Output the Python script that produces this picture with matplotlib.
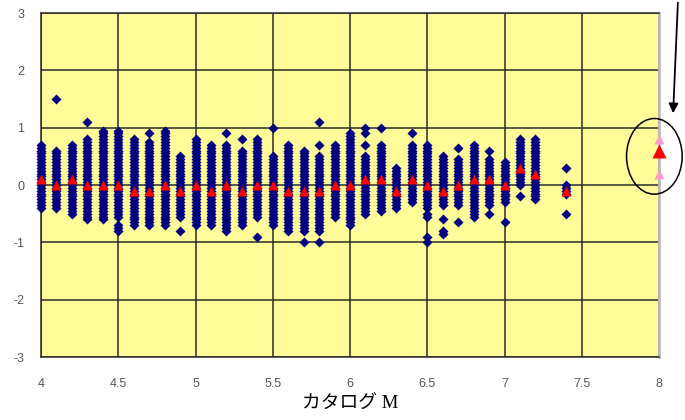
import numpy as np
import matplotlib.pyplot as plt
from matplotlib.patches import Ellipse

plt.rcParams['axes.unicode_minus'] = False

# catalog magnitude of each column
mag = [4.0, 4.1, 4.2, 4.3, 4.4, 4.5, 4.6, 4.7, 4.8, 4.9,
       5.0, 5.1, 5.2, 5.3, 5.4, 5.5, 5.6, 5.7, 5.8, 5.9,
       6.0, 6.1, 6.2, 6.3, 6.4, 6.5, 6.6, 6.7, 6.8, 6.9,
       7.0, 7.1, 7.2, 7.4]

# dense part of each column (residuals every 0.05)
col_top = [0.70, 0.60, 0.70, 0.80, 0.95, 0.95, 0.80, 0.75, 0.95, 0.50,
           0.80, 0.70, 0.70, 0.60, 0.80, 0.50, 0.70, 0.60, 0.50, 0.70,
           0.90, 0.50, 0.70, 0.30, 0.70, 0.70, 0.50, 0.45, 0.70, 0.45,
           0.40, 0.80, 0.80, 0.00]
col_bottom = [-0.40, -0.40, -0.50, -0.60, -0.60, -0.55, -0.70, -0.70, -0.70, -0.55,
              -0.70, -0.70, -0.80, -0.70, -0.55, -0.70, -0.80, -0.80, -0.80, -0.55,
              -0.70, -0.50, -0.45, -0.40, -0.30, -0.40, -0.35, -0.35, -0.55, -0.35,
              -0.30, 0.00, -0.25, 0.00]

# isolated points
extra_x = [4.1, 4.3, 4.5, 4.5, 4.5, 4.7, 4.9, 5.2, 5.3, 5.4, 5.5, 5.7,
           5.8, 5.8, 5.8, 6.1, 6.1, 6.1, 6.2, 6.4, 6.5, 6.5, 6.5, 6.5,
           6.6, 6.6, 6.6, 6.7, 6.7, 6.9, 6.9, 7.0, 7.1,
           7.4, 7.4, 7.4, 7.4, 7.4]
extra_y = [1.5, 1.1, -0.7, -0.75, -0.8, 0.9, -0.8, 0.9, 0.8, -0.9, 1.0, -1.0,
           1.1, 0.7, -1.0, 1.0, 0.9, 0.7, 1.0, 0.9, -0.5, -0.55, -0.9, -1.0,
           -0.6, -0.8, -0.85, 0.65, -0.65, 0.6, -0.5, -0.65, -0.2,
           0.3, -0.05, -0.1, -0.15, -0.5]

# mean residual per column
mean_resid = [0.1, 0.0, 0.1, 0.0, 0.0, 0.0, -0.1, -0.1, 0.0, -0.1,
              0.0, -0.1, 0.0, -0.1, 0.0, 0.0, -0.1, -0.1, -0.1, 0.0,
              0.0, 0.1, 0.1, -0.1, 0.1, 0.0, -0.1, 0.0, 0.1, 0.1,
              0.0, 0.3, 0.2, -0.1]

# highlighted star at M = 8
hl_mag = 8.0
hl_mean = 0.6
hl_range = [0.8, 0.2]

xtick_vals = [4, 4.5, 5, 5.5, 6, 6.5, 7, 7.5, 8]
xtick_labels = ["4", "4.5", "5", "5.5", "6", "6.5", "7", "7.5", "8"]
ytick_vals = [-3, -2, -1, 0, 1, 2, 3]

# expand dense columns
px, py = [], []
for m, t, b in zip(mag, col_top, col_bottom):
    ys = np.round(np.arange(b, t + 0.001, 0.05), 2)
    px.extend([m] * len(ys))
    py.extend(ys)
px.extend(extra_x)
py.extend(extra_y)

fig = plt.figure(figsize=(6.85, 4.2), dpi=100)
ax = fig.add_axes([41 / 685, 63 / 420, 618 / 685, 344 / 420])
ax.set_facecolor("#fffb99")

ax.plot(px, py, "D", color="#000080", ms=5.0, mec="none", zorder=3, clip_on=False)
ax.plot(mag, mean_resid, "^", color="#ff0000", ms=7, mec="none", zorder=4,
        clip_on=False)

ax.plot([hl_mag] * len(hl_range), hl_range, "^", color="#ff9ccc", ms=6.5,
        mec="none", zorder=4, clip_on=False)
ax.plot([hl_mag], [hl_mean], "^", color="#ff0000", ms=10, mec="none",
        zorder=5, clip_on=False)

ell = Ellipse((hl_mag - 0.03, 0.5), 0.36, 1.32, fill=False, ec="black",
              lw=1.1, clip_on=False, zorder=6)
ax.add_patch(ell)

ax.set_xlim(4, 8)
ax.set_ylim(-3, 3)
ax.set_xticks(xtick_vals)
ax.set_xticklabels(xtick_labels)
ax.set_yticks(ytick_vals)
ax.grid(True, color="#2b2b2b", lw=1.1, zorder=1)
ax.set_axisbelow(True)
ax.tick_params(length=0, labelsize=9, labelcolor="#555555")
ax.tick_params(axis="x", pad=15)
ax.tick_params(axis="y", pad=12)
for lab in ax.get_xticklabels() + ax.get_yticklabels():
    lab.set_family("Liberation Sans")
for side in ["left", "bottom", "top"]:
    ax.spines[side].set_color("#2b2b2b")
    ax.spines[side].set_linewidth(1.1)
ax.spines["right"].set_color("#bdbdbd")
ax.spines["right"].set_linewidth(2)

fig.text(350 / 685, 1 - 404 / 420, "カタログ M", ha="center", va="center",
         fontsize=13.5, family=["Liberation Serif", "Noto Sans CJK JP"])

ax.annotate("", xy=(673 / 685, 1 - 116 / 420), xytext=(678 / 685, 1.0),
            xycoords="figure fraction", textcoords="figure fraction",
            arrowprops=dict(arrowstyle="-|>", color="black", lw=1.3,
                            mutation_scale=14))

fig.savefig("out.png", dpi=100, facecolor="white")
